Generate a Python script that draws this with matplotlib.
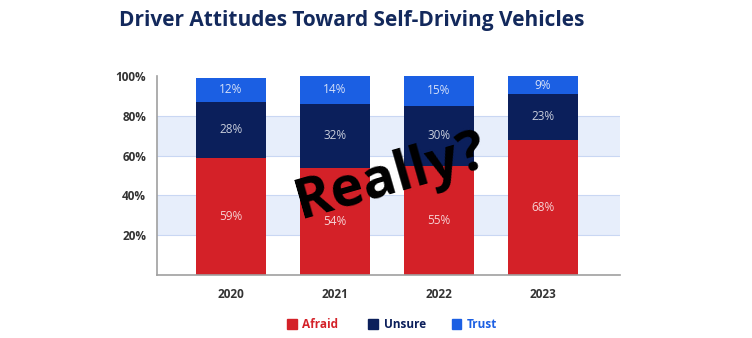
import matplotlib.pyplot as plt
from matplotlib.patches import Rectangle

# data
years = ['2020', '2021', '2022', '2023']
afraid = [59, 54, 55, 68]
unsure = [28, 32, 30, 23]
trust = [12, 14, 15, 9]

red = '#D42128'
navy = '#0B1F5B'
blue = '#1B5FE3'
band = '#E7EEFB'

plt.rcParams['font.family'] = ['Open Sans', 'DejaVu Sans']

fig = plt.figure(figsize=(7.52, 3.38), dpi=100)
ax = fig.add_axes([0.209, 0.186, 0.615, 0.589])

x = range(len(years))
w = 0.67

# shaded bands
for lo in [20, 60]:
    ax.axhspan(lo, lo + 20, color=band, zorder=0, lw=0)
for g in [20, 40, 60, 80]:
    ax.axhline(g, color='#C9D7F3', lw=0.8, zorder=0.5)

bottom2 = [a + u for a, u in zip(afraid, unsure)]
ax.bar(x, afraid, w, color=red, zorder=2)
ax.bar(x, unsure, w, bottom=afraid, color=navy, zorder=2)
ax.bar(x, trust, w, bottom=bottom2, color=blue, zorder=2)

for i in x:
    ax.text(i, afraid[i] / 2, f'{afraid[i]}%', ha='center', va='center',
            color='#F6D3D5', fontsize=8.5, zorder=3)
    ax.text(i, afraid[i] + unsure[i] / 2, f'{unsure[i]}%', ha='center', va='center',
            color='#C8CDDB', fontsize=8.5, zorder=3)
    ax.text(i, bottom2[i] + trust[i] / 2, f'{trust[i]}%', ha='center', va='center',
            color='#D5E0F8', fontsize=8.5, zorder=3)

ax.set_xlim(-0.71, 3.74)
ax.set_ylim(0, 100)
ax.set_yticks([20, 40, 60, 80, 100])
ax.set_yticklabels(['20%', '40%', '60%', '80%', '100%'], fontweight='bold',
                   color='#333333', fontsize=8.5)
ax.set_xticks(list(x))
ax.set_xticklabels(years, fontweight='bold', color='#333333', fontsize=8.5)
ax.tick_params(length=0, pad=9)
ax.tick_params(axis='y', pad=8)
for s in ['top', 'right']:
    ax.spines[s].set_visible(False)
for s in ['left', 'bottom']:
    ax.spines[s].set_color('#A0A0A0')
    ax.spines[s].set_linewidth(1.2)

# title
fig.text(0.468, 0.94, 'Driver Attitudes Toward Self-Driving Vehicles', ha='center',
         va='center', fontsize=15, fontweight='bold', color='#13295C')

# legend
leg = [('Afraid', red, 0.382), ('Unsure', navy, 0.49), ('Trust', blue, 0.601)]
for name, c, lx in leg:
    fig.patches.append(Rectangle((lx, 0.027), 0.0125, 0.028, transform=fig.transFigure,
                                 color=c))
    fig.text(lx + 0.02, 0.041, name, ha='left', va='center', fontsize=8.5,
             fontweight='bold', color=c)

# overlay text
fig.text(0.52, 0.475, 'Really?', ha='center', va='center', fontsize=40,
         fontweight='bold', rotation=16, color='black', zorder=10)

fig.savefig('out.png', dpi=100)
